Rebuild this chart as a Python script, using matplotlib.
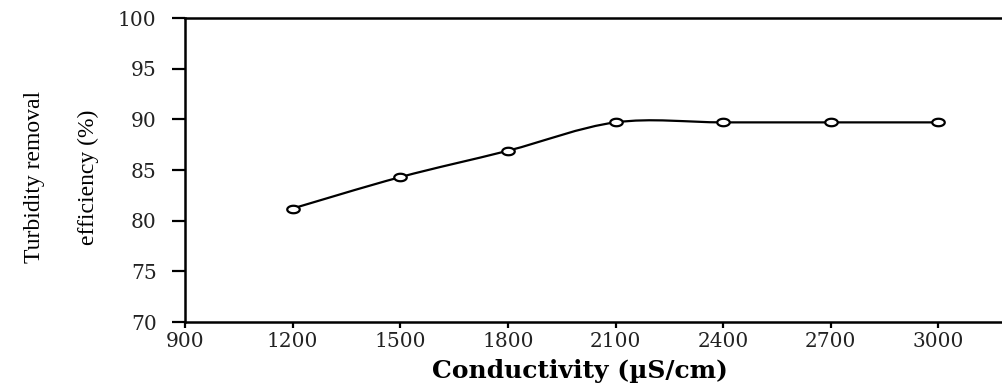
import matplotlib
matplotlib.use('Agg')
import matplotlib.pyplot as plt
import numpy as np
from matplotlib.path import Path
from matplotlib.patches import PathPatch

# data
conductivity = [1200, 1500, 1800, 2100, 2400, 2700, 3000]
efficiency = [81.2, 84.3, 86.9, 89.7, 89.7, 89.7, 89.7]
x_ticks = [900, 1200, 1500, 1800, 2100, 2400, 2700, 3000]
y_ticks = [70, 75, 80, 85, 90, 95, 100]


def smooth_path(xs, ys):
    # bezier like the "smoothed line" of a spreadsheet
    pts = np.column_stack([xs, ys]).astype(float)
    n = len(pts)
    verts = [pts[0]]
    codes = [Path.MOVETO]
    for i in range(n - 1):
        p0 = pts[i - 1] if i > 0 else pts[i]
        p1 = pts[i]
        p2 = pts[i + 1]
        p3 = pts[i + 2] if i + 2 < n else pts[i + 1]
        c1 = p1 + (p2 - p0) / 6.0
        c2 = p2 - (p3 - p1) / 6.0
        verts += [c1, c2, p2]
        codes += [Path.CURVE4] * 3
    return Path(verts, codes)


# flattened circle marker (picture is stretched sideways)
t = np.linspace(0, 2 * np.pi, 40)
ellipse = Path(np.column_stack([np.cos(t), 0.6 * np.sin(t)]), closed=True)

fig = plt.figure(figsize=(10.03, 3.92), dpi=100)
ax = fig.add_axes([185 / 1003, 1 - 322 / 392, 1 - 185 / 1003, (322 - 18) / 392])

ax.add_patch(PathPatch(smooth_path(conductivity, efficiency), fill=False,
                       edgecolor='black', lw=1.6, zorder=2))
ax.plot(conductivity, efficiency, linestyle='none', marker=ellipse, markersize=9,
        markerfacecolor='white', markeredgecolor='black', markeredgewidth=1.6, zorder=3)

ax.set_xlim(900, 3180)
ax.set_ylim(70, 100)
ax.set_xticks(x_ticks)
ax.set_yticks(y_ticks)

for side in ['left', 'bottom', 'top']:
    ax.spines[side].set_linewidth(1.8)
ax.spines['right'].set_visible(False)

ax.tick_params(axis='y', direction='out', length=9.5, width=1.6, pad=11,
               labelsize=14.5, labelcolor='#222222')
ax.tick_params(axis='x', direction='out', length=4.5, width=1.6, pad=3,
               labelsize=14.5, labelcolor='#222222')
for lab in ax.get_xticklabels() + ax.get_yticklabels():
    lab.set_family('DejaVu Serif')

ax.set_xlabel('Conductivity (\u00b5S/cm)', family='DejaVu Serif', fontweight='bold',
              fontsize=18, va='center')
ax.xaxis.set_label_coords((580 - 185) / (1003 - 185), -(371 - 322) / 304)
ax.set_ylabel('Turbidity removal\nefficiency (%)', family='Liberation Serif',
              fontsize=17, linespacing=3.0)
ax.yaxis.set_label_coords(-(185 - 99) / (1003 - 185), (322 - 177) / 304)

fig.savefig('out.png', dpi=100)
